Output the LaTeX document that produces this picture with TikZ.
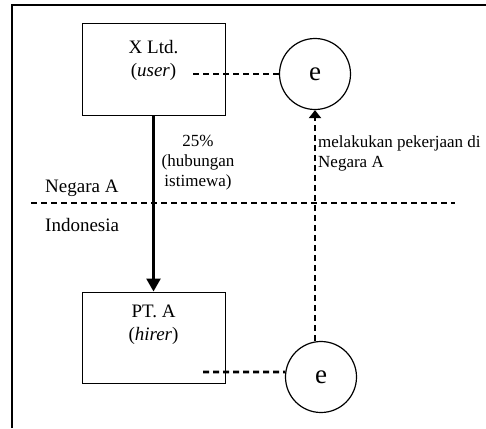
\documentclass[tikz,border=0pt]{standalone}
\usepackage{fontspec}
\setmainfont{Liberation Serif}
\usetikzlibrary{shapes,arrows.meta}

\begin{document}
\begin{tikzpicture}[x=1pt, y=-1pt,
  firm/.style={draw, line width=1pt, minimum width=143pt, minimum height=91pt, inner sep=0pt},
  firmtext/.style={anchor=north, align=center, inner sep=0pt, font=\fontsize{19}{23}\selectfont},
  worker/.style={draw, circle, line width=1.2pt, minimum size=71pt, inner sep=0pt, font=\fontsize{27}{27}\selectfont},
  note/.style={inner sep=0pt, font=\fontsize{17}{20}\selectfont},
  region/.style={anchor=base west, inner sep=0pt, font=\fontsize{19}{23}\selectfont},
  link/.style={dash pattern=on 6pt off 4pt, line width=2.6pt}]
\useasboundingbox (0,0) rectangle (486,428);
\draw [line width=1.3pt] (12,428) -- (12,5) -- (486,5);

\node[firm] (xltd) at (153.5,69.5) {};
\node[firmtext] (xltdtext) at (153.5,40) {X Ltd.\\(\textit{user})};
\node[firm] (pta) at (153.5,337.5) {};
\node[firmtext] (ptatext) at (153.5,305) {PT. A\\(\textit{hirer})};

\node[worker] (e1) at (315,74) {e};
\node[worker] (e2) at (321,377) {e};

% border between the two countries
\coordinate (west) at (31,203);
\coordinate (east) at (455,203);
\draw [link] (west) -- (east);
\node[region] (negara) at (45,192) {Negara A};
\node[region] (indo) at (45,231) {Indonesia};

% special relationship
\draw [line width=2.7pt, -{Triangle[length=13pt,width=14pt]}] (xltd.south) -- (pta.north);
\node[note, align=center, anchor=north] (share) at (198,134.5) {25\%\\(hubungan\\istimewa)};

% employees
\coordinate (user) at (193,74);
\coordinate (hirer) at (203,372);
\draw [link] (user) -- (e1.west);
\draw [link] (hirer) -- (e2.172);
\draw [link, -{Triangle[length=8pt,width=12pt]}] (e2.north -| e1.south) -- (e1.south);
\node[note, align=left, anchor=north west] (work) at (318,135.4) {melakukan pekerjaan di\\Negara A};
\end{tikzpicture}
\end{document}
